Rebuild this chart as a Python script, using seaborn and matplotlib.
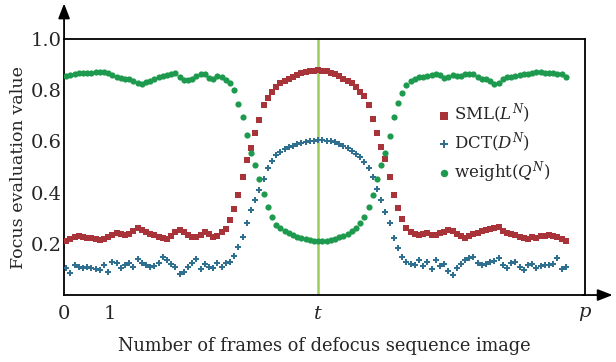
import matplotlib
matplotlib.use('Agg')
import matplotlib.pyplot as plt
import numpy as np
import pandas as pd
import seaborn as sns

# Values: one point per frame, t is frame 60
sml = [0.212, 0.220, 0.226, 0.230, 0.226, 0.222, 0.224, 0.220, 0.215, 0.220,
       0.228, 0.236, 0.242, 0.238, 0.234, 0.240, 0.252, 0.263, 0.256, 0.248,
       0.240, 0.236, 0.228, 0.222, 0.218, 0.230, 0.246, 0.254, 0.246, 0.236,
       0.228, 0.226, 0.234, 0.246, 0.240, 0.228, 0.232, 0.245, 0.258, 0.293,
       0.335, 0.390, 0.462, 0.527, 0.575, 0.632, 0.684, 0.742, 0.768, 0.794,
       0.811, 0.827, 0.838, 0.846, 0.853, 0.859, 0.866, 0.870, 0.874, 0.877,
       0.879, 0.877, 0.874, 0.869, 0.863, 0.855, 0.846, 0.838, 0.827, 0.811,
       0.794, 0.777, 0.742, 0.686, 0.634, 0.577, 0.530, 0.460, 0.390, 0.339,
       0.296, 0.260, 0.247, 0.238, 0.236, 0.240, 0.242, 0.234, 0.236, 0.244,
       0.248, 0.254, 0.250, 0.238, 0.230, 0.224, 0.230, 0.238, 0.242, 0.250,
       0.254, 0.258, 0.262, 0.266, 0.250, 0.241, 0.238, 0.236, 0.228, 0.222,
       0.219, 0.226, 0.224, 0.230, 0.232, 0.236, 0.230, 0.226, 0.219, 0.212]

dct = [0.104, 0.088, 0.117, 0.111, 0.106, 0.108, 0.104, 0.100, 0.098, 0.117,
       0.091, 0.130, 0.124, 0.104, 0.118, 0.124, 0.111, 0.140, 0.126, 0.117,
       0.110, 0.112, 0.126, 0.149, 0.137, 0.122, 0.110, 0.083, 0.091, 0.111,
       0.124, 0.139, 0.100, 0.121, 0.111, 0.104, 0.124, 0.111, 0.124, 0.128,
       0.152, 0.189, 0.228, 0.280, 0.332, 0.371, 0.410, 0.455, 0.495, 0.525,
       0.547, 0.560, 0.570, 0.577, 0.582, 0.589, 0.593, 0.596, 0.600, 0.603,
       0.606, 0.604, 0.602, 0.600, 0.596, 0.590, 0.582, 0.573, 0.564, 0.551,
       0.538, 0.521, 0.495, 0.460, 0.416, 0.371, 0.326, 0.280, 0.221, 0.182,
       0.150, 0.128, 0.120, 0.118, 0.136, 0.112, 0.128, 0.100, 0.135, 0.112,
       0.122, 0.092, 0.078, 0.105, 0.120, 0.137, 0.143, 0.150, 0.124, 0.118,
       0.122, 0.128, 0.132, 0.143, 0.117, 0.104, 0.124, 0.130, 0.111, 0.098,
       0.117, 0.122, 0.104, 0.112, 0.118, 0.116, 0.120, 0.143, 0.101, 0.111]

weight = [0.855, 0.858, 0.863, 0.866, 0.868, 0.868, 0.867, 0.870, 0.872, 0.870,
          0.866, 0.858, 0.852, 0.848, 0.846, 0.843, 0.835, 0.828, 0.824, 0.832,
          0.838, 0.845, 0.850, 0.855, 0.860, 0.865, 0.868, 0.850, 0.842, 0.840,
          0.846, 0.856, 0.863, 0.865, 0.848, 0.846, 0.855, 0.850, 0.840, 0.830,
          0.800, 0.745, 0.695, 0.625, 0.553, 0.510, 0.453, 0.395, 0.343, 0.306,
          0.273, 0.260, 0.250, 0.241, 0.234, 0.227, 0.222, 0.218, 0.215, 0.212,
          0.210, 0.210, 0.213, 0.216, 0.220, 0.225, 0.231, 0.240, 0.250, 0.262,
          0.280, 0.305, 0.345, 0.390, 0.455, 0.508, 0.553, 0.620, 0.694, 0.749,
          0.790, 0.820, 0.837, 0.846, 0.850, 0.853, 0.855, 0.860, 0.865, 0.858,
          0.848, 0.852, 0.860, 0.855, 0.855, 0.864, 0.865, 0.862, 0.852, 0.846,
          0.843, 0.836, 0.825, 0.830, 0.846, 0.850, 0.852, 0.856, 0.860, 0.862,
          0.865, 0.866, 0.870, 0.872, 0.866, 0.868, 0.868, 0.864, 0.862, 0.852]

frames = np.arange(len(sml))
t_frame = 60
xtick_pos = [-0.5, 10.5, 22.6, 35.0, 48.1, 60.0, 72.9, 86.0, 98.8, 111.7, 123.6]
xtick_labels = ['0', '1', '', '', '', '$t$', '', '', '', '', '$p$']
ytick_pos = [0.2, 0.4, 0.6, 0.8, 1.0]

df = pd.DataFrame({'frame': frames, 'sml': sml, 'dct': dct, 'weight': weight})

sns.set_style('white')
plt.rcParams['font.family'] = ['DejaVu Serif']
plt.rcParams['mathtext.fontset'] = 'dejavuserif'

fig = plt.figure(figsize=(6.16, 3.62), dpi=100)
ax = fig.add_axes([0.104, 0.185, 0.846, 0.707])

# vertical line at the in-focus frame
ax.axvline(t_frame, color='#9dcc5a', linewidth=1.8, zorder=1)

sns.scatterplot(data=df, x='frame', y='sml', ax=ax, marker='s', s=20,
                color='#a8343a', linewidth=0, label='SML($L^N$)', zorder=3)
sns.scatterplot(data=df, x='frame', y='dct', ax=ax, marker='P', s=24,
                color='#2f6f8f', linewidth=0, label='DCT($D^N$)', zorder=3)
sns.scatterplot(data=df, x='frame', y='weight', ax=ax, marker='o', s=20,
                color='#1e9a4e', linewidth=0, label='weight($Q^N$)', zorder=3)

ax.set_xlim(xtick_pos[0], xtick_pos[-1])
ax.set_ylim(0, 1.0)
ax.set_xticks(xtick_pos)
ax.set_xticklabels(xtick_labels)
ax.set_yticks(ytick_pos)
ax.set_yticklabels(['0.2', '0.4', '0.6', '0.8', '1.0'])
ax.tick_params(axis='both', direction='in', length=10, width=1.2,
               color='black', labelsize=14)
ax.tick_params(axis='y', pad=2)
ax.tick_params(axis='x', pad=7)

for sp in ax.spines.values():
    sp.set_color('black')
    sp.set_linewidth(1.3)

# axis arrows
ax.annotate('', xy=(0, 1.15), xytext=(0, 0.99), xycoords='axes fraction',
            arrowprops=dict(arrowstyle='-|>,head_length=0.9,head_width=0.35',
                            color='black', lw=1.3))
ax.annotate('', xy=(1.058, 0), xytext=(0.99, 0), xycoords='axes fraction',
            arrowprops=dict(arrowstyle='-|>,head_length=0.9,head_width=0.35',
                            color='black', lw=1.3))

ax.set_xlabel('Number of frames of defocus sequence image', fontsize=12.8)
ax.set_ylabel('Focus evaluation value', fontsize=12.6)
ax.xaxis.set_label_coords(0.5, -0.165)
ax.yaxis.set_label_coords(-0.072, 0.5)

ax.legend(loc='upper left', bbox_to_anchor=(0.7, 0.78), frameon=False,
          fontsize=12, handletextpad=0.1, borderaxespad=0, labelspacing=0.25,
          handlelength=1.0, markerscale=1.2)

fig.savefig('out.png', dpi=100)
